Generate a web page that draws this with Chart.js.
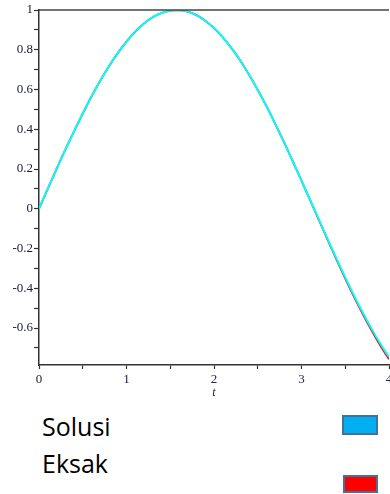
<!DOCTYPE html>
<html>
<head>
<meta charset="utf-8">
<script src="https://cdn.jsdelivr.net/npm/chart.js@4"></script>
<style>
  body { margin: 0; background: #fff; width: 390px; height: 494px; overflow: hidden; position: relative; }
  #wrap { position: absolute; left: 0; top: 0; width: 390px; height: 400px; }
  .lbl { position: absolute; left: 42px; font-family: "Open Sans", sans-serif; font-size: 25px; line-height: 25px; color: #000; }
  .box { position: absolute; box-sizing: border-box; border: 2px solid #41719c; }
</style>
</head>
<body>
<div id="wrap"><canvas id="plot"></canvas></div>
<div class="lbl" style="top:414px">Solusi</div>
<div class="lbl" style="top:451px">Eksak</div>
<div class="box" style="left:342px; top:415px; width:36px; height:20px; background:#00b0f0"></div>
<div class="box" style="left:343px; top:475px; width:35px; height:18px; background:#ff0000"></div>
<script>
const tValues = [0, 0.1, 0.2, 0.3, 0.4, 0.5, 0.6, 0.7, 0.8, 0.9, 1.0, 1.1, 1.2, 1.3, 1.4, 1.5, 1.6, 1.7, 1.8, 1.9, 2.0,
                 2.1, 2.2, 2.3, 2.4, 2.5, 2.6, 2.7, 2.8, 2.9, 3.0, 3.1, 3.2, 3.3, 3.4, 3.5, 3.6, 3.7, 3.8, 3.9, 4.0];
const solusi = [0, 0.100, 0.199, 0.296, 0.389, 0.479, 0.565, 0.644, 0.717, 0.783, 0.841, 0.891, 0.932, 0.964, 0.985, 0.997,
                1.000, 0.992, 0.974, 0.946, 0.909, 0.863, 0.808, 0.746, 0.675, 0.598, 0.516, 0.427, 0.335, 0.239, 0.141,
                0.043, -0.055, -0.154, -0.251, -0.345, -0.436, -0.522, -0.603, -0.678, -0.746];
const eksak = [0, 0.100, 0.199, 0.296, 0.389, 0.479, 0.565, 0.644, 0.717, 0.783, 0.841, 0.891, 0.932, 0.964, 0.985, 0.997,
               1.000, 0.992, 0.974, 0.946, 0.909, 0.863, 0.808, 0.746, 0.675, 0.598, 0.516, 0.427, 0.335, 0.239, 0.141,
               0.042, -0.058, -0.158, -0.256, -0.351, -0.443, -0.530, -0.612, -0.688, -0.757];
const xTicks = [0, 0.5, 1, 1.5, 2, 2.5, 3, 3.5, 4];
const yTicks = [-0.7, -0.6, -0.5, -0.4, -0.3, -0.2, -0.1, 0, 0.1, 0.2, 0.3, 0.4, 0.5, 0.6, 0.7, 0.8, 0.9, 1];

const tickFont = { family: '"Liberation Serif", "Times New Roman", serif', size: 13 };
const tickColor = '#202040';

const topBorder = {
  id: 'topBorder',
  afterDraw(chart) {
    const { ctx, chartArea } = chart;
    ctx.save();
    ctx.strokeStyle = '#444';
    ctx.lineWidth = 1.5;
    ctx.beginPath();
    ctx.moveTo(chartArea.left, chartArea.top);
    ctx.lineTo(chartArea.right, chartArea.top);
    ctx.stroke();
    ctx.restore();
  }
};

new Chart(document.getElementById('plot'), {
  type: 'line',
  data: {
    datasets: [
      {
        label: 'Solusi',
        data: tValues.map((t, i) => ({ x: t, y: solusi[i] })),
        borderColor: '#00ffff',
        borderWidth: 2,
        pointRadius: 0,
        tension: 0.4,
        fill: false
      },
      {
        label: 'Eksak',
        data: tValues.map((t, i) => ({ x: t, y: eksak[i] })),
        borderColor: '#ff0000',
        borderWidth: 1.8,
        pointRadius: 0,
        tension: 0.4,
        fill: false
      }
    ]
  },
  options: {
    responsive: true,
    maintainAspectRatio: false,
    animation: false,
    layout: { padding: { top: 10, right: 1, left: 0, bottom: 0 } },
    plugins: { legend: { display: false }, tooltip: { enabled: false } },
    scales: {
      x: {
        type: 'linear',
        min: 0,
        max: 4,
        afterBuildTicks: s => { s.ticks = xTicks.map(v => ({ value: v })); },
        afterFit: s => { s.height = 35; s.paddingLeft = 0; s.paddingRight = 0; },
        grid: { drawOnChartArea: false, tickLength: 4, tickColor: '#333', tickWidth: 1.2 },
        border: { color: '#333', width: 1.5 },
        ticks: {
          font: tickFont,
          color: tickColor,
          padding: 3,
          maxRotation: 0,
          autoSkip: false,
          callback: v => (Number.isInteger(v) ? String(v) : '')
        },
        title: {
          display: true,
          text: 't',
          font: { family: '"Liberation Serif", serif', size: 12, style: 'italic' },
          color: tickColor,
          padding: { top: 0, bottom: 0 }
        }
      },
      y: {
        min: -0.786,
        max: 1.0,
        afterBuildTicks: s => { s.ticks = yTicks.map(v => ({ value: v })); },
        afterFit: s => { s.width = 39; s.paddingTop = 0; s.paddingBottom = 0; },
        grid: { drawOnChartArea: false, tickLength: 5, tickColor: '#333', tickWidth: 1.2 },
        border: { color: '#333', width: 1.5 },
        ticks: {
          font: tickFont,
          color: tickColor,
          padding: 1,
          autoSkip: false,
          callback: v => {
            const k = Math.round(v * 10);
            return k % 2 === 0 ? String(k / 10) : '';
          }
        }
      }
    }
  },
  plugins: [topBorder]
});
</script>
</body>
</html>
